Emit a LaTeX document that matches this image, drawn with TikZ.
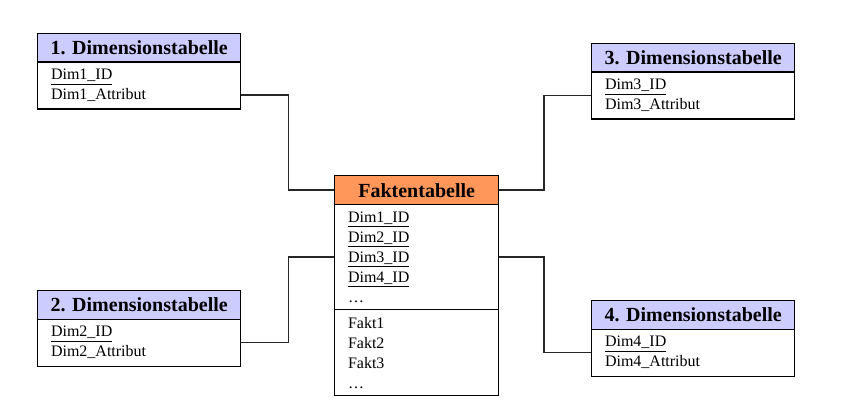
\documentclass[tikz,border=0pt]{standalone}
\usepackage{fontspec}
\setmainfont{Liberation Serif}
\usepackage{tikz}
\definecolor{dimblau}{RGB}{204,204,255}
\definecolor{faktorange}{RGB}{255,150,90}
\begin{document}
\begin{tikzpicture}[x=0.75pt,y=-0.75pt]
\tikzset{tabhead/.style = {draw,line width=1pt,anchor=north west,minimum height=21.4pt,inner sep=0pt,font=\fontsize{15}{18}\selectfont\bfseries}}
\tikzset{dimhead/.style = {tabhead,fill=dimblau,minimum width=152.25pt}}
\tikzset{dimbody/.style = {draw,line width=1pt,anchor=north west,minimum height=35.25pt,text width=132.25pt,inner xsep=10pt,inner ysep=0pt,align=left,font=\fontsize{12}{15}\selectfont}}
\tikzset{faktbody/.style = {dimbody,text width=103pt}}
\tikzset{edge/.style = {-,line width=1pt,black!85}}
\useasboundingbox (0,0) rectangle (850,406);

\node[dimhead] (d1h) at (37,33) {1. Dimensionstabelle};
\node[dimbody] (d1b) at (37,61.5) {\underline{Dim1\_ID}\\Dim1\_Attribut};
\node[dimhead] (d2h) at (37,290) {2. Dimensionstabelle};
\node[dimbody] (d2b) at (37,318.5) {\underline{Dim2\_ID}\\Dim2\_Attribut};
\node[dimhead] (d3h) at (591,43) {3. Dimensionstabelle};
\node[dimbody] (d3b) at (591,71.5) {\underline{Dim3\_ID}\\Dim3\_Attribut};
\node[dimhead] (d4h) at (591,300) {4. Dimensionstabelle};
\node[dimbody] (d4b) at (591,328.5) {\underline{Dim4\_ID}\\Dim4\_Attribut};

\node[tabhead,fill=faktorange,minimum width=123pt,minimum height=21.75pt] (fh) at (334,175) {Faktentabelle};
\node[faktbody,minimum height=78.75pt] (fk) at (334,204) {\underline{Dim1\_ID}\\\underline{Dim2\_ID}\\\underline{Dim3\_ID}\\\underline{Dim4\_ID}\\\dots};
\node[faktbody,minimum height=64.5pt] (ff) at (334,309) {Fakt1\\Fakt2\\Fakt3\\\dots};

\draw[edge] ([yshift=-7pt]d1b.east) -- ++(47,0) |- (fh.west);
\draw[edge] (d2b.east) -- ++(47,0) |- (fk.west);
\draw[edge] (d3b.west) -- ++(-47,0) |- (fh.east);
\draw[edge] (d4b.west) -- ++(-47,0) |- (fk.east);
\end{tikzpicture}
\end{document}
